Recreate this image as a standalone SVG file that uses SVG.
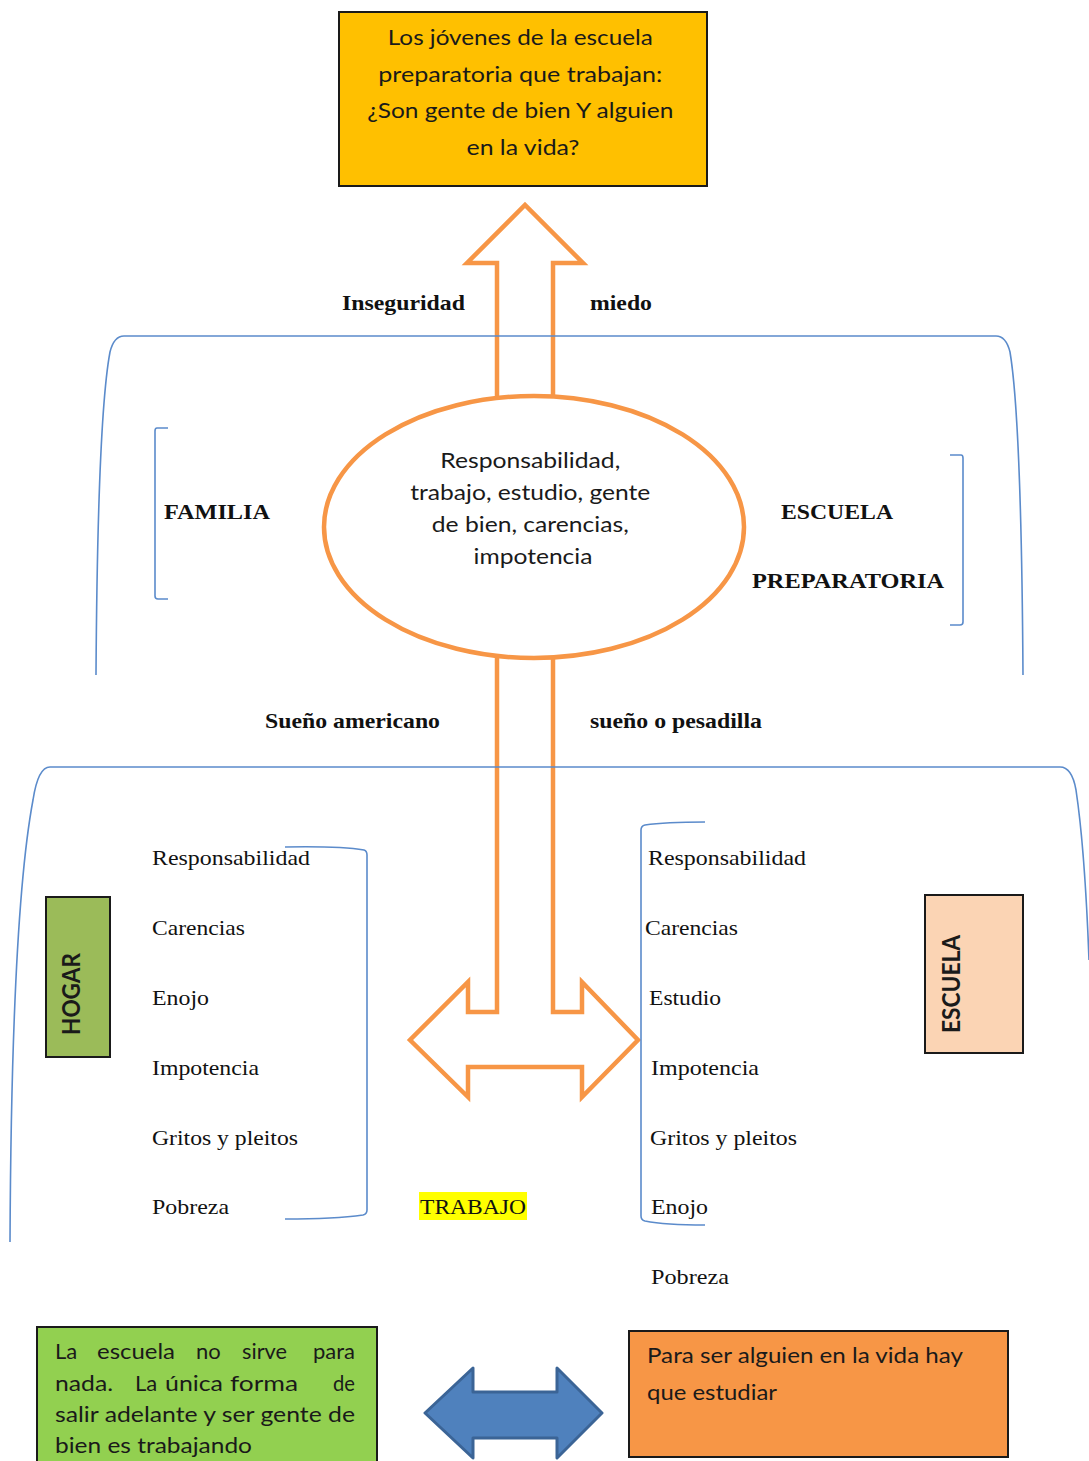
<svg xmlns="http://www.w3.org/2000/svg" width="1089" height="1461" viewBox="0 0 1089 1461">
  <style>
    .sans { font-family: "Lato", "Open Sans", "Liberation Sans", sans-serif; fill: #1a1a1a; }
    .lbl { font-family: "Liberation Serif", "DejaVu Serif", serif; font-weight: bold; font-size: 22px; fill: #111; }
    .item { font-family: "Liberation Serif", "DejaVu Serif", serif; font-size: 21px; fill: #111; }
    .brace { fill: none; stroke: #5B8BCB; stroke-width: 1.6; }
    .orange { fill: #fff; stroke: #F79646; stroke-width: 4.5; stroke-linejoin: miter; }
    .box { stroke: #1a1a1a; stroke-width: 2; }
  </style>

  <rect width="1089" height="1461" fill="#fff"/>

  <!-- connectors -->
  <g id="connectors">
    <polygon class="orange" points="497,430 497,263 467,263 525,205 583,263 553,263 553,430"/>
    <polygon class="orange" points="497,630 497,1012 468,1012 468,982 410,1040 468,1097 468,1067 582,1067 582,1097 638,1040 582,982 582,1012 553,1012 553,630"/>
    <polygon points="425,1413 473,1368 473,1392 557,1392 557,1368 602,1413 557,1458 557,1438 473,1438 473,1458" fill="#4F81BD" stroke="#3B6496" stroke-width="3" stroke-linejoin="round"/>
  </g>

  <!-- enclosing brackets -->
  <g id="brackets">
    <path class="brace" d="M96,675 C97,520 101,400 110,352 Q114,336 124,336 L996,336 Q1006,336 1010,352 C1018,400 1022,520 1023,675"/>
    <path class="brace" d="M10,1242 C11,1030 18,880 33,800 Q38,767 50,767 L1060,767 Q1072,767 1076,790 C1082,830 1086,880 1089,960"/>
    <path class="brace" d="M168,428 L157,428 Q155,428 155,431 L155,596 Q155,599 158,599 L168,599"/>
    <path class="brace" d="M950,455 L961,455 Q963,455 963,458 L963,622 Q963,625 960,625 L950,625"/>
    <path class="brace" d="M285,847 Q340,846 364,850 Q367,851 367,855 L367,1210 Q367,1214 363,1215 Q335,1219 285,1219"/>
    <path class="brace" d="M705,822 Q665,822 645,825 Q641,826 641,830 L641,1216 Q641,1220 645,1221 Q665,1225 705,1225"/>
  </g>

  <!-- question box -->
  <g id="node-pregunta">
    <rect class="box" x="339" y="12" width="368" height="174" fill="#FFC000"/>
    <text class="sans" font-size="21" text-anchor="middle">
      <tspan x="523" y="45" textLength="265" lengthAdjust="spacingAndGlyphs">Los jóvenes de la escuela</tspan>
      <tspan x="523" y="82" textLength="284" lengthAdjust="spacingAndGlyphs">preparatoria que trabajan:</tspan>
      <tspan x="523" y="118" textLength="306" lengthAdjust="spacingAndGlyphs">¿Son gente de bien Y alguien</tspan>
      <tspan x="523" y="155" textLength="113" lengthAdjust="spacingAndGlyphs">en la vida?</tspan>
    </text>
  </g>

  <g id="label-inseguridad"><text class="lbl" x="342" y="310" textLength="123" lengthAdjust="spacingAndGlyphs">Inseguridad</text></g>
  <g id="label-miedo"><text class="lbl" x="590" y="310" textLength="62" lengthAdjust="spacingAndGlyphs">miedo</text></g>

  <!-- central ellipse -->
  <g id="node-centro">
    <ellipse cx="534" cy="527" rx="210" ry="131" fill="#fff" stroke="#F79646" stroke-width="4.5"/>
    <text class="sans" font-size="21" text-anchor="middle" fill="#222">
      <tspan x="533" y="468" textLength="180" lengthAdjust="spacingAndGlyphs">Responsabilidad,</tspan>
      <tspan x="533" y="500" textLength="240" lengthAdjust="spacingAndGlyphs">trabajo, estudio, gente</tspan>
      <tspan x="533" y="532" textLength="197" lengthAdjust="spacingAndGlyphs">de bien, carencias,</tspan>
      <tspan x="533" y="564" textLength="119" lengthAdjust="spacingAndGlyphs">impotencia</tspan>
    </text>
  </g>

  <g id="label-familia"><text class="lbl" x="164" y="519" textLength="106" lengthAdjust="spacingAndGlyphs">FAMILIA</text></g>
  <g id="label-escuela-prep">
    <text class="lbl" x="781" y="519" textLength="112" lengthAdjust="spacingAndGlyphs">ESCUELA</text>
    <text class="lbl" x="752" y="588" textLength="192" lengthAdjust="spacingAndGlyphs">PREPARATORIA</text>
  </g>

  <g id="label-sueno-americano"><text class="lbl" x="265" y="728" textLength="175" lengthAdjust="spacingAndGlyphs">Sueño americano</text></g>
  <g id="label-sueno-pesadilla"><text class="lbl" x="590" y="728" textLength="172" lengthAdjust="spacingAndGlyphs">sueño o pesadilla</text></g>

  <!-- HOGAR side -->
  <g id="node-hogar">
    <rect class="box" x="46" y="897" width="64" height="160" fill="#9BBB59"/>
    <text class="sans" font-size="24" font-weight="bold" transform="translate(80,1035) rotate(-90)" textLength="82" lengthAdjust="spacingAndGlyphs">HOGAR</text>
  </g>
  <g id="list-hogar">
    <text class="item" x="152" y="865" textLength="158" lengthAdjust="spacingAndGlyphs">Responsabilidad</text>
    <text class="item" x="152" y="935" textLength="93" lengthAdjust="spacingAndGlyphs">Carencias</text>
    <text class="item" x="152" y="1005" textLength="57" lengthAdjust="spacingAndGlyphs">Enojo</text>
    <text class="item" x="152" y="1075" textLength="107" lengthAdjust="spacingAndGlyphs">Impotencia</text>
    <text class="item" x="152" y="1145" textLength="146" lengthAdjust="spacingAndGlyphs">Gritos y pleitos</text>
    <text class="item" x="152" y="1214" textLength="77" lengthAdjust="spacingAndGlyphs">Pobreza</text>
  </g>

  <!-- ESCUELA side -->
  <g id="node-escuela">
    <rect class="box" x="925" y="895" width="98" height="158" fill="#FBD4B4"/>
    <text class="sans" font-size="24" font-weight="bold" transform="translate(960,1033) rotate(-90)" textLength="98" lengthAdjust="spacingAndGlyphs">ESCUELA</text>
  </g>
  <g id="list-escuela">
    <text class="item" x="648" y="865" textLength="158" lengthAdjust="spacingAndGlyphs">Responsabilidad</text>
    <text class="item" x="645" y="935" textLength="93" lengthAdjust="spacingAndGlyphs">Carencias</text>
    <text class="item" x="649" y="1005" textLength="72" lengthAdjust="spacingAndGlyphs">Estudio</text>
    <text class="item" x="651" y="1075" textLength="108" lengthAdjust="spacingAndGlyphs">Impotencia</text>
    <text class="item" x="650" y="1145" textLength="147" lengthAdjust="spacingAndGlyphs">Gritos y pleitos</text>
    <text class="item" x="651" y="1214" textLength="57" lengthAdjust="spacingAndGlyphs">Enojo</text>
    <text class="item" x="651" y="1284" textLength="78" lengthAdjust="spacingAndGlyphs">Pobreza</text>
  </g>

  <g id="label-trabajo">
    <rect x="419" y="1192" width="108" height="28" fill="#FFFF00"/>
    <text class="item" x="420" y="1214" textLength="106" lengthAdjust="spacingAndGlyphs">TRABAJO</text>
  </g>

  <!-- bottom opinions -->
  <g id="node-trabajar">
    <rect class="box" x="37" y="1327" width="340" height="150" fill="#92D050"/>
    <g class="sans" font-size="22">
      <text x="55" y="1359">La</text>
      <text x="97" y="1359" textLength="78" lengthAdjust="spacingAndGlyphs">escuela</text>
      <text x="196" y="1359">no</text>
      <text x="242" y="1359" textLength="45" lengthAdjust="spacingAndGlyphs">sirve</text>
      <text x="313" y="1359" textLength="42" lengthAdjust="spacingAndGlyphs">para</text>
      <text x="55" y="1391" textLength="58" lengthAdjust="spacingAndGlyphs">nada.</text>
      <text x="135" y="1391">La</text>
      <text x="165" y="1391" textLength="58" lengthAdjust="spacingAndGlyphs">única</text>
      <text x="230" y="1391" textLength="68" lengthAdjust="spacingAndGlyphs">forma</text>
      <text x="333" y="1391" textLength="22" lengthAdjust="spacingAndGlyphs">de</text>
      <text x="55" y="1422" textLength="300" lengthAdjust="spacingAndGlyphs">salir adelante y ser gente de</text>
      <text x="55" y="1453" textLength="197" lengthAdjust="spacingAndGlyphs">bien es trabajando</text>
    </g>
  </g>

  <g id="node-estudiar">
    <rect class="box" x="629" y="1331" width="379" height="126" fill="#F79646"/>
    <text class="sans" font-size="22" x="647" y="1363" textLength="316" lengthAdjust="spacingAndGlyphs">Para ser alguien en la vida hay</text>
    <text class="sans" font-size="22" x="647" y="1400" textLength="130" lengthAdjust="spacingAndGlyphs">que estudiar</text>
  </g>
</svg>
